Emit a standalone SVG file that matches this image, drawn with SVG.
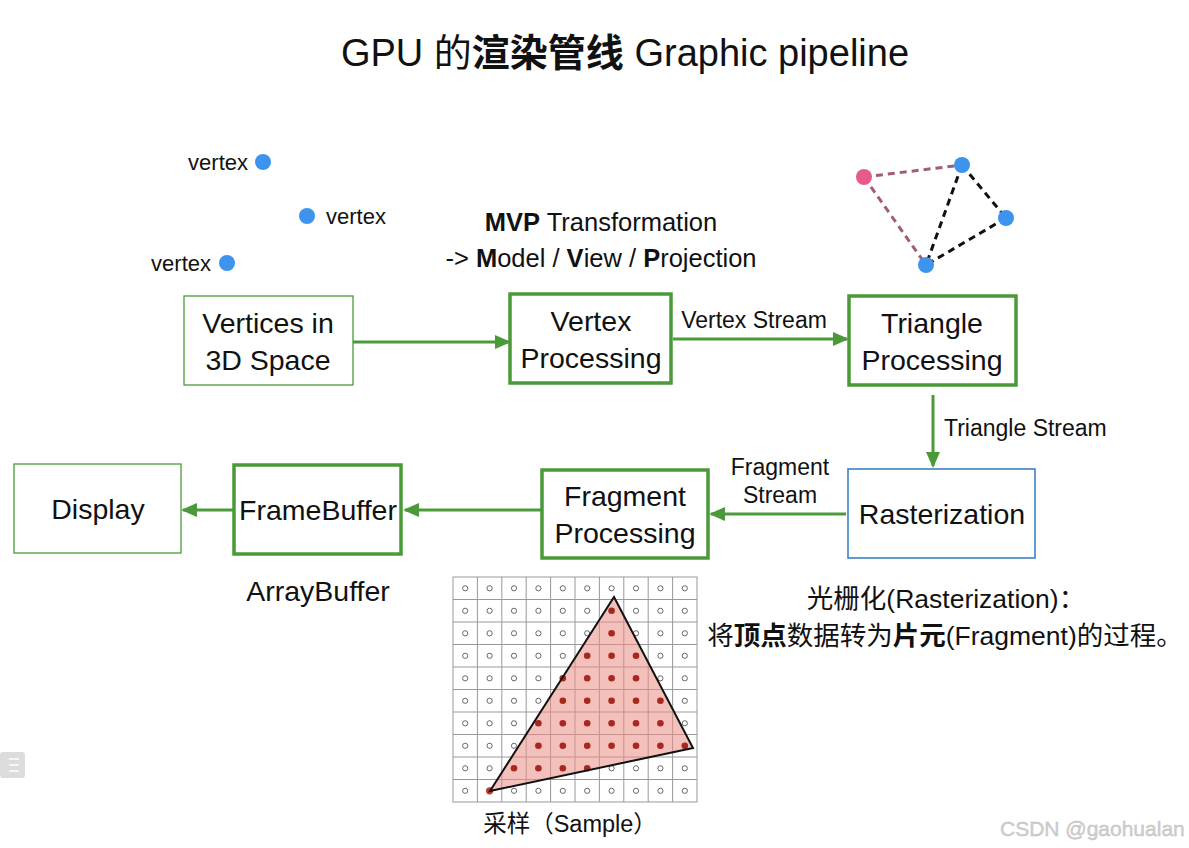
<svg xmlns="http://www.w3.org/2000/svg" width="1189" height="848" viewBox="0 0 1189 848">
<defs>
<style>
text{font-family:"Liberation Sans",Arial,"Noto Sans CJK SC",sans-serif;fill:#111}
.box{fill:#fff;stroke:#4a9a3a}
.thin{stroke-width:1.3}
.thick{stroke-width:3.5}
.blue{fill:#fff;stroke:#3b82c4;stroke-width:1.6}
.lbl{font-size:28.5px;text-anchor:middle}
.small{font-size:23px}
.vx{font-size:22px}
.conn{stroke:#4a9a3a;stroke-width:3;fill:none;marker-end:url(#ah)}
.vdot{fill:#3d94ef}
.hc{fill:#fff;stroke:#444;stroke-width:0.8}
.fc{fill:#a8281f}
.gl{stroke:#999;stroke-width:1}
</style>
<marker id="ah" markerUnits="userSpaceOnUse" markerWidth="16" markerHeight="14" refX="14" refY="7" orient="auto">
<path d="M0,0 L16,7 L0,14 Z" fill="#4a9a3a"/>
</marker>
</defs>
<rect width="1189" height="848" fill="#fff"/>

<text x="625" y="66" font-size="38" text-anchor="middle">GPU 的<tspan font-weight="bold">渲染管线</tspan> Graphic pipeline</text>

<g id="vertices">
<circle class="vdot" cx="263" cy="162" r="8"/>
<text x="248" y="170" class="vx" text-anchor="end">vertex</text>
<circle class="vdot" cx="307" cy="216" r="8"/>
<text x="326" y="224" class="vx">vertex</text>
<circle class="vdot" cx="227" cy="263" r="8"/>
<text x="211" y="271" class="vx" text-anchor="end">vertex</text>
</g>

<g id="mvp">
<text x="601" y="231" font-size="25.5" text-anchor="middle"><tspan font-weight="bold">MVP</tspan> Transformation</text>
<text x="601" y="267" font-size="25.5" text-anchor="middle">-&gt; <tspan font-weight="bold">M</tspan>odel / <tspan font-weight="bold">V</tspan>iew / <tspan font-weight="bold">P</tspan>rojection</text>
</g>

<g id="triangle-icon" stroke-width="3" stroke-dasharray="7,5" fill="none">
<line x1="864" y1="177" x2="962" y2="165" stroke="#a45b7a"/>
<line x1="864" y1="177" x2="926" y2="265" stroke="#a45b7a"/>
<line x1="962" y1="165" x2="926" y2="265" stroke="#111"/>
<line x1="962" y1="165" x2="1006" y2="218" stroke="#111"/>
<line x1="1006" y1="218" x2="926" y2="265" stroke="#111"/>
<circle cx="864" cy="177" r="8" fill="#e65a8e" stroke="none"/>
<circle cx="962" cy="165" r="8" class="vdot" stroke="none"/>
<circle cx="1006" cy="218" r="8" class="vdot" stroke="none"/>
<circle cx="926" cy="265" r="8" class="vdot" stroke="none"/>
</g>

<g id="connectors">
<line class="conn" x1="353" y1="342" x2="509" y2="342"/>
<line class="conn" x1="673" y1="339" x2="847" y2="339"/>
<line class="conn" x1="933" y1="395" x2="933" y2="466"/>
<line class="conn" x1="846" y1="514" x2="711" y2="514"/>
<line class="conn" x1="541" y1="510" x2="405" y2="510"/>
<line class="conn" x1="233" y1="510" x2="183" y2="510"/>
<text x="754" y="328" class="small" text-anchor="middle">Vertex Stream</text>
<text x="944" y="436" class="small">Triangle Stream</text>
<text x="780" y="475" class="small" text-anchor="middle">Fragment</text>
<text x="780" y="503" class="small" text-anchor="middle">Stream</text>
</g>

<g id="node-vertices3d">
<rect class="box thin" x="184" y="296" width="169" height="89"/>
<text class="lbl" x="268" y="333">Vertices in</text>
<text class="lbl" x="268" y="370">3D Space</text>
</g>
<g id="node-vertexproc">
<rect class="box thick" x="510" y="294" width="161" height="89"/>
<text class="lbl" x="591" y="331">Vertex</text>
<text class="lbl" x="591" y="368">Processing</text>
</g>
<g id="node-triproc">
<rect class="box thick" x="849" y="296" width="167" height="89"/>
<text class="lbl" x="932" y="333">Triangle</text>
<text class="lbl" x="932" y="370">Processing</text>
</g>
<g id="node-raster">
<rect class="blue" x="848" y="469" width="187" height="89"/>
<text class="lbl" x="942" y="524">Rasterization</text>
</g>
<g id="node-fragproc">
<rect class="box thick" x="542" y="470" width="166" height="88"/>
<text class="lbl" x="625" y="506">Fragment</text>
<text class="lbl" x="625" y="543">Processing</text>
</g>
<g id="node-framebuffer">
<rect class="box thick" x="234" y="465" width="167" height="89"/>
<text class="lbl" x="318" y="520">FrameBuffer</text>
</g>
<g id="node-display">
<rect class="box thin" x="14" y="464" width="167" height="89"/>
<text class="lbl" x="98" y="519">Display</text>
</g>

<text x="318" y="601" font-size="28.5" text-anchor="middle">ArrayBuffer</text>

<g id="raster-desc">
<text x="946" y="608" font-size="26.5" text-anchor="middle">光栅化(Rasterization)：</text>
<text x="945" y="645" font-size="26.5" text-anchor="middle">将<tspan font-weight="bold">顶点</tspan>数据转为<tspan font-weight="bold">片元</tspan>(Fragment)的过程。</text>
</g>

<g id="sample-grid">
<rect x="453" y="577" width="244" height="225" fill="#fff" stroke="#999" stroke-width="1"/>
<g class="gl">
<line x1="477.4" y1="577" x2="477.4" y2="802"/><line x1="501.8" y1="577" x2="501.8" y2="802"/>
<line x1="526.2" y1="577" x2="526.2" y2="802"/><line x1="550.6" y1="577" x2="550.6" y2="802"/>
<line x1="575" y1="577" x2="575" y2="802"/><line x1="599.4" y1="577" x2="599.4" y2="802"/>
<line x1="623.8" y1="577" x2="623.8" y2="802"/><line x1="648.2" y1="577" x2="648.2" y2="802"/>
<line x1="672.6" y1="577" x2="672.6" y2="802"/>
<line x1="453" y1="599.5" x2="697" y2="599.5"/><line x1="453" y1="622" x2="697" y2="622"/>
<line x1="453" y1="644.5" x2="697" y2="644.5"/><line x1="453" y1="667" x2="697" y2="667"/>
<line x1="453" y1="689.5" x2="697" y2="689.5"/><line x1="453" y1="712" x2="697" y2="712"/>
<line x1="453" y1="734.5" x2="697" y2="734.5"/><line x1="453" y1="757" x2="697" y2="757"/>
<line x1="453" y1="779.5" x2="697" y2="779.5"/>
</g>
<polygon points="614,597 693,748 490,791" fill="#eb8c84" fill-opacity="0.55"/>
<g id="hollow">
<circle class="hc" cx="465.2" cy="588.3" r="2.6"/><circle class="hc" cx="489.6" cy="588.3" r="2.6"/><circle class="hc" cx="514" cy="588.3" r="2.6"/><circle class="hc" cx="538.4" cy="588.3" r="2.6"/><circle class="hc" cx="562.8" cy="588.3" r="2.6"/><circle class="hc" cx="587.2" cy="588.3" r="2.6"/><circle class="hc" cx="611.6" cy="588.3" r="2.6"/><circle class="hc" cx="636" cy="588.3" r="2.6"/><circle class="hc" cx="660.4" cy="588.3" r="2.6"/><circle class="hc" cx="684.8" cy="588.3" r="2.6"/>
<circle class="hc" cx="465.2" cy="610.8" r="2.6"/><circle class="hc" cx="489.6" cy="610.8" r="2.6"/><circle class="hc" cx="514" cy="610.8" r="2.6"/><circle class="hc" cx="538.4" cy="610.8" r="2.6"/><circle class="hc" cx="562.8" cy="610.8" r="2.6"/><circle class="hc" cx="587.2" cy="610.8" r="2.6"/><circle class="hc" cx="636" cy="610.8" r="2.6"/><circle class="hc" cx="660.4" cy="610.8" r="2.6"/><circle class="hc" cx="684.8" cy="610.8" r="2.6"/>
<circle class="hc" cx="465.2" cy="633.3" r="2.6"/><circle class="hc" cx="489.6" cy="633.3" r="2.6"/><circle class="hc" cx="514" cy="633.3" r="2.6"/><circle class="hc" cx="538.4" cy="633.3" r="2.6"/><circle class="hc" cx="562.8" cy="633.3" r="2.6"/><circle class="hc" cx="587.2" cy="633.3" r="2.6"/><circle class="hc" cx="636" cy="633.3" r="2.6"/><circle class="hc" cx="660.4" cy="633.3" r="2.6"/><circle class="hc" cx="684.8" cy="633.3" r="2.6"/>
<circle class="hc" cx="465.2" cy="655.8" r="2.6"/><circle class="hc" cx="489.6" cy="655.8" r="2.6"/><circle class="hc" cx="514" cy="655.8" r="2.6"/><circle class="hc" cx="538.4" cy="655.8" r="2.6"/><circle class="hc" cx="562.8" cy="655.8" r="2.6"/><circle class="hc" cx="660.4" cy="655.8" r="2.6"/><circle class="hc" cx="684.8" cy="655.8" r="2.6"/>
<circle class="hc" cx="465.2" cy="678.3" r="2.6"/><circle class="hc" cx="489.6" cy="678.3" r="2.6"/><circle class="hc" cx="514" cy="678.3" r="2.6"/><circle class="hc" cx="538.4" cy="678.3" r="2.6"/><circle class="hc" cx="660.4" cy="678.3" r="2.6"/><circle class="hc" cx="684.8" cy="678.3" r="2.6"/>
<circle class="hc" cx="465.2" cy="700.8" r="2.6"/><circle class="hc" cx="489.6" cy="700.8" r="2.6"/><circle class="hc" cx="514" cy="700.8" r="2.6"/><circle class="hc" cx="538.4" cy="700.8" r="2.6"/><circle class="hc" cx="684.8" cy="700.8" r="2.6"/>
<circle class="hc" cx="465.2" cy="723.3" r="2.6"/><circle class="hc" cx="489.6" cy="723.3" r="2.6"/><circle class="hc" cx="514" cy="723.3" r="2.6"/><circle class="hc" cx="684.8" cy="723.3" r="2.6"/>
<circle class="hc" cx="465.2" cy="745.8" r="2.6"/><circle class="hc" cx="489.6" cy="745.8" r="2.6"/><circle class="hc" cx="514" cy="745.8" r="2.6"/>
<circle class="hc" cx="465.2" cy="768.3" r="2.6"/><circle class="hc" cx="489.6" cy="768.3" r="2.6"/><circle class="hc" cx="611.6" cy="768.3" r="2.6"/><circle class="hc" cx="636" cy="768.3" r="2.6"/><circle class="hc" cx="660.4" cy="768.3" r="2.6"/><circle class="hc" cx="684.8" cy="768.3" r="2.6"/>
<circle class="hc" cx="465.2" cy="790.8" r="2.6"/><circle class="hc" cx="514" cy="790.8" r="2.6"/><circle class="hc" cx="538.4" cy="790.8" r="2.6"/><circle class="hc" cx="562.8" cy="790.8" r="2.6"/><circle class="hc" cx="587.2" cy="790.8" r="2.6"/><circle class="hc" cx="611.6" cy="790.8" r="2.6"/><circle class="hc" cx="636" cy="790.8" r="2.6"/><circle class="hc" cx="660.4" cy="790.8" r="2.6"/><circle class="hc" cx="684.8" cy="790.8" r="2.6"/>
</g>
<g id="filled">
<circle class="fc" cx="611.6" cy="610.8" r="3.3"/>
<circle class="fc" cx="611.6" cy="633.3" r="3.3"/>
<circle class="fc" cx="587.2" cy="655.8" r="3.3"/><circle class="fc" cx="611.6" cy="655.8" r="3.3"/><circle class="fc" cx="636" cy="655.8" r="3.3"/>
<circle class="fc" cx="562.8" cy="678.3" r="3.3"/><circle class="fc" cx="587.2" cy="678.3" r="3.3"/><circle class="fc" cx="611.6" cy="678.3" r="3.3"/><circle class="fc" cx="636" cy="678.3" r="3.3"/>
<circle class="fc" cx="562.8" cy="700.8" r="3.3"/><circle class="fc" cx="587.2" cy="700.8" r="3.3"/><circle class="fc" cx="611.6" cy="700.8" r="3.3"/><circle class="fc" cx="636" cy="700.8" r="3.3"/><circle class="fc" cx="660.4" cy="700.8" r="3.3"/>
<circle class="fc" cx="538.4" cy="723.3" r="3.3"/><circle class="fc" cx="562.8" cy="723.3" r="3.3"/><circle class="fc" cx="587.2" cy="723.3" r="3.3"/><circle class="fc" cx="611.6" cy="723.3" r="3.3"/><circle class="fc" cx="636" cy="723.3" r="3.3"/><circle class="fc" cx="660.4" cy="723.3" r="3.3"/>
<circle class="fc" cx="538.4" cy="745.8" r="3.3"/><circle class="fc" cx="562.8" cy="745.8" r="3.3"/><circle class="fc" cx="587.2" cy="745.8" r="3.3"/><circle class="fc" cx="611.6" cy="745.8" r="3.3"/><circle class="fc" cx="636" cy="745.8" r="3.3"/><circle class="fc" cx="660.4" cy="745.8" r="3.3"/><circle class="fc" cx="684.8" cy="745.8" r="3.3"/>
<circle class="fc" cx="514" cy="768.3" r="3.3"/><circle class="fc" cx="538.4" cy="768.3" r="3.3"/><circle class="fc" cx="562.8" cy="768.3" r="3.3"/><circle class="fc" cx="587.2" cy="768.3" r="3.3"/>
<circle class="fc" cx="489.6" cy="790.8" r="3.6" style="fill:#c0392b"/>
</g>
<polygon points="614,597 693,748 490,791" fill="none" stroke="#111" stroke-width="2"/>
</g>
<text x="570" y="832" font-size="23.5" text-anchor="middle">采样（Sample）</text>

<g id="ui-icon">
<rect x="0" y="752" width="25" height="26" rx="3" fill="#dcdcdc"/>
<line x1="9" y1="759" x2="19" y2="759" stroke="#fff" stroke-width="1.5"/>
<line x1="9" y1="765" x2="19" y2="765" stroke="#fff" stroke-width="1.5"/>
<line x1="9" y1="771" x2="19" y2="771" stroke="#fff" stroke-width="1.5"/>
</g>
<text x="1000" y="836" font-size="21" style="fill:#d0d0d0;stroke:#bdbdbd;stroke-width:0.4">CSDN @gaohualan</text>
</svg>
